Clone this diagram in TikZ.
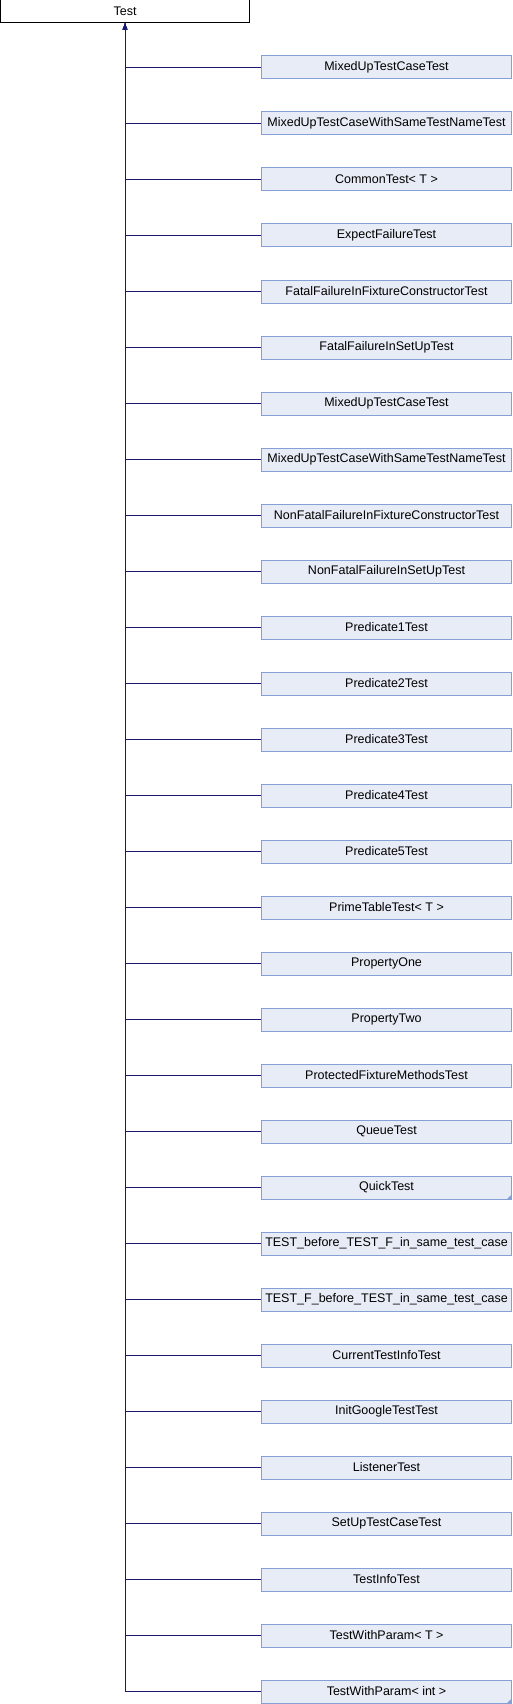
\documentclass[tikz,border=0pt]{standalone}
\usepackage{fontspec}
\setmainfont{Liberation Sans}
\usetikzlibrary{arrows}
\definecolor{edgeBlue}{HTML}{191970}
\definecolor{boxFill}{HTML}{E8ECF6}
\definecolor{boxLine}{HTML}{84A0D6}
\tikzstyle{base} = [rectangle, minimum width=249pt, minimum height=23pt, text centered, draw=black, fill=white, line width=1pt, inner sep=0pt]
\tikzstyle{child} = [rectangle, minimum width=250pt, minimum height=23pt, text centered, draw=boxLine, fill=boxFill, line width=1pt, inner sep=0pt]
\tikzstyle{arrow} = [draw=edgeBlue, line width=1pt, ->, >=latex]
\tikzstyle{corner} = [fill=boxLine]

\begin{document}
\begin{tikzpicture}[x=1pt, y=1pt, node distance=56pt, font=\fontsize{12.5}{14}\selectfont]
\useasboundingbox (0,0) rectangle (512,-1704);

% Base class
\node (test) [base] at (125,-11.5) {Test};

% Derived classes
\node (mixedUP) [child, below of=test, xshift=261.5pt] {MixedUpTestCaseTest};
\node (mixedSAME) [child, below of=mixedUP] {MixedUpTestCaseWithSameTestNameTest};
\node (commonT) [child, below of=mixedSAME] {CommonTest< T >};
\node (expectFAIL) [child, below of=commonT] {ExpectFailureTest};
\node (fatalCTOR) [child, below of=expectFAIL] {FatalFailureInFixtureConstructorTest};
\node (fatalSETUP) [child, below of=fatalCTOR] {FatalFailureInSetUpTest};
\node (mixedUPtwo) [child, below of=fatalSETUP] {MixedUpTestCaseTest};
\node (mixedSAMEtwo) [child, below of=mixedUPtwo] {MixedUpTestCaseWithSameTestNameTest};
\node (nonFatalCTOR) [child, below of=mixedSAMEtwo] {NonFatalFailureInFixtureConstructorTest};
\node (nonFatalSETUP) [child, below of=nonFatalCTOR] {NonFatalFailureInSetUpTest};
\node (predONE) [child, below of=nonFatalSETUP] {Predicate1Test};
\node (predTWO) [child, below of=predONE] {Predicate2Test};
\node (predTHREE) [child, below of=predTWO] {Predicate3Test};
\node (predFOUR) [child, below of=predTHREE] {Predicate4Test};
\node (predFIVE) [child, below of=predFOUR] {Predicate5Test};
\node (primeT) [child, below of=predFIVE] {PrimeTableTest< T >};
\node (propONE) [child, below of=primeT] {PropertyOne};
\node (propTWO) [child, below of=propONE] {PropertyTwo};
\node (protFIX) [child, below of=propTWO] {ProtectedFixtureMethodsTest};
\node (queueT) [child, below of=protFIX] {QueueTest};
\node (quickT) [child, below of=queueT] {QuickTest};
\node (testBEFORE) [child, below of=quickT] {TEST\_before\_TEST\_F\_in\_same\_test\_case};
\node (testFBEFORE) [child, below of=testBEFORE] {TEST\_F\_before\_TEST\_in\_same\_test\_case};
\node (curInfo) [child, below of=testFBEFORE] {CurrentTestInfoTest};
\node (initGT) [child, below of=curInfo] {InitGoogleTestTest};
\node (listenerT) [child, below of=initGT] {ListenerTest};
\node (setUpCase) [child, below of=listenerT] {SetUpTestCaseTest};
\node (testInfo) [child, below of=setUpCase] {TestInfoTest};
\node (paramT) [child, below of=testInfo] {TestWithParam< T >};
\node (paramINT) [child, below of=paramT] {TestWithParam< int >};

% Corner marks
\fill [corner] (quickT.south east) ++(-0.5,0.5) -- ++(-4.5,0) -- ++(4.5,4.5) -- cycle;
\fill [corner] (paramINT.south east) ++(-0.5,0.5) -- ++(-4.5,0) -- ++(4.5,4.5) -- cycle;

% Inheritance arrows
\draw [arrow] (mixedUP.west) -| (test.south);
\draw [arrow] (mixedSAME.west) -| (test.south);
\draw [arrow] (commonT.west) -| (test.south);
\draw [arrow] (expectFAIL.west) -| (test.south);
\draw [arrow] (fatalCTOR.west) -| (test.south);
\draw [arrow] (fatalSETUP.west) -| (test.south);
\draw [arrow] (mixedUPtwo.west) -| (test.south);
\draw [arrow] (mixedSAMEtwo.west) -| (test.south);
\draw [arrow] (nonFatalCTOR.west) -| (test.south);
\draw [arrow] (nonFatalSETUP.west) -| (test.south);
\draw [arrow] (predONE.west) -| (test.south);
\draw [arrow] (predTWO.west) -| (test.south);
\draw [arrow] (predTHREE.west) -| (test.south);
\draw [arrow] (predFOUR.west) -| (test.south);
\draw [arrow] (predFIVE.west) -| (test.south);
\draw [arrow] (primeT.west) -| (test.south);
\draw [arrow] (propONE.west) -| (test.south);
\draw [arrow] (propTWO.west) -| (test.south);
\draw [arrow] (protFIX.west) -| (test.south);
\draw [arrow] (queueT.west) -| (test.south);
\draw [arrow] (quickT.west) -| (test.south);
\draw [arrow] (testBEFORE.west) -| (test.south);
\draw [arrow] (testFBEFORE.west) -| (test.south);
\draw [arrow] (curInfo.west) -| (test.south);
\draw [arrow] (initGT.west) -| (test.south);
\draw [arrow] (listenerT.west) -| (test.south);
\draw [arrow] (setUpCase.west) -| (test.south);
\draw [arrow] (testInfo.west) -| (test.south);
\draw [arrow] (paramT.west) -| (test.south);
\draw [arrow] (paramINT.west) -| (test.south);

\end{tikzpicture}
\end{document}
